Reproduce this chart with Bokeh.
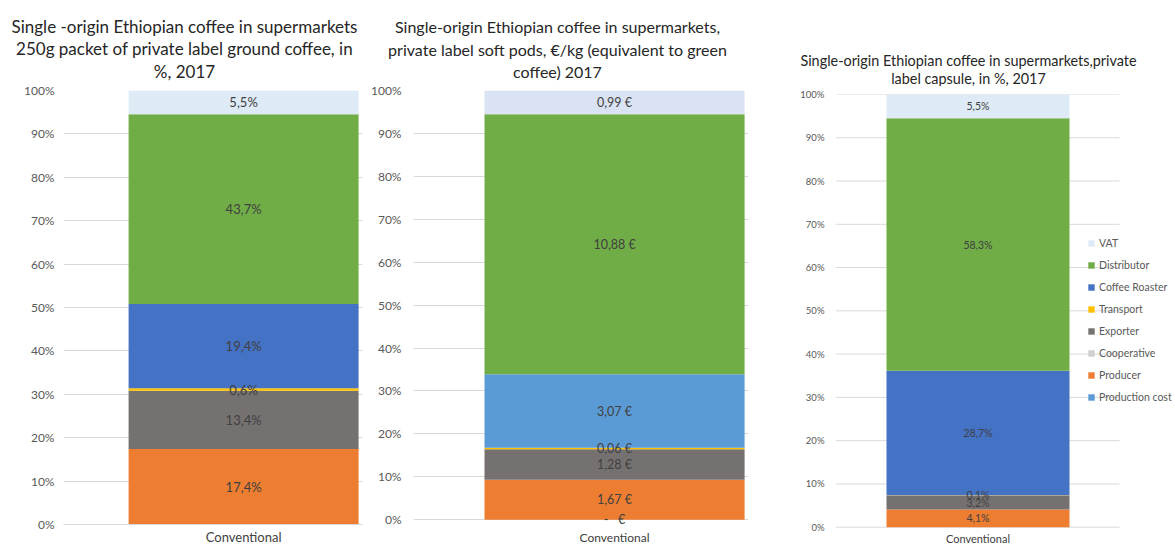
from bokeh.plotting import figure
from bokeh.models import Range1d, FixedTicker, NumeralTickFormatter, Legend, LegendItem, ColumnDataSource
from bokeh.layouts import row, column
from bokeh.embed import file_html
from bokeh.resources import INLINE
from bokeh.core.properties import value
import numpy as np

FONT = "Lato"

categories = ["Conventional"]

segments_1 = ["Producer", "Exporter", "Transport", "Coffee Roaster", "Distributor", "VAT"]
values_1 = [17.4, 13.4, 0.6, 19.4, 43.7, 5.5]
colors_1 = ["#ED7D31", "#767171", "#FFC000", "#4472C4", "#70AD47", "#DEEBF7"]

segments_2 = ["Production cost", "Producer", "Exporter", "Transport", "Coffee Roaster", "Distributor", "VAT"]
values_2 = [0.00, 1.67, 1.28, 0.06, 3.07, 10.88, 0.99]
colors_2 = ["#5B9BD5", "#ED7D31", "#767171", "#FFC000", "#5B9BD5", "#70AD47", "#DAE3F3"]

segments_3 = ["Production cost", "Producer", "Cooperative", "Exporter", "Transport",
              "Coffee Roaster", "Distributor", "VAT"]
values_3 = [0.0, 4.1, 0.0, 3.2, 0.1, 28.7, 58.3, 5.5]
colors_3 = ["#5B9BD5", "#ED7D31", "#D0CECE", "#767171", "#FFC000", "#4472C4", "#70AD47", "#DEEBF7"]

y_ticks = [i / 10 for i in range(11)]

titles_1 = ["Single -origin Ethiopian coffee in supermarkets",
            "250g packet of private label ground coffee, in",
            "%, 2017"]
titles_2 = ["Single-origin Ethiopian coffee in supermarkets,",
            "private label soft pods, \u20ac/kg (equivalent to green",
            "coffee) 2017"]
titles_3 = ["Single-origin Ethiopian coffee in supermarkets,private",
            "label capsule, in %, 2017"]


def pct_label(v):
    return f"{v:.1f}%".replace(".", ",") if v else ""


def eur_label(v):
    if v == 0:
        return "-\u00a0\u00a0\u00a0\u20ac"
    return f"{v:.2f} \u20ac".replace(".", ",")


def title_fig(x0, width, height, lines, xc, ys, size):
    p = figure(width=width, height=height, output_backend="svg", toolbar_location=None,
               x_range=Range1d(x0, x0 + width), y_range=Range1d(height, 0),
               x_axis_location=None, y_axis_location=None, min_border=0,
               frame_align=False)
    p.outline_line_color = None
    p.grid.visible = False
    p.text(x=[xc] * len(lines), y=ys, text=lines, text_align="center",
           text_baseline="middle", text_font=value(FONT), text_font_size=size,
           text_color="#262626")
    return p


def chart_fig(width, height, mb, xr, yr, names, values, colors, labels, label_size,
              tick_size, tick_standoff, cat_size, cat_standoff, axis_line, grid_end=None):
    vals = np.array(values, dtype=float)
    share = vals / vals.sum()
    top = np.cumsum(share)
    bottom = top - share
    p = figure(width=width, height=height, output_backend="svg", toolbar_location=None,
               x_range=Range1d(*xr), y_range=Range1d(*yr),
               min_border_left=mb[0], min_border_right=mb[1],
               min_border_top=mb[2], min_border_bottom=mb[3], frame_align=False)
    p.outline_line_color = None
    p.xgrid.visible = False
    if grid_end is None:
        p.ygrid.ticker = FixedTicker(ticks=y_ticks)
        p.ygrid.grid_line_color = "#D9D9D9"
    else:
        p.ygrid.visible = False
        p.segment(x0=[xr[0]] * len(y_ticks), x1=[grid_end] * len(y_ticks),
                  y0=y_ticks, y1=y_ticks, line_color="#D9D9D9", line_width=1)

    xc = categories.index("Conventional")
    renderers = {}
    for n, b, t, c in zip(names, bottom, top, colors):
        renderers[n] = p.vbar(x=[xc], width=1, bottom=[b], top=[t], fill_color=c,
                              line_color=None)

    src = ColumnDataSource(dict(x=[xc] * len(vals), label=labels, mid=(top + bottom) / 2))
    p.text(x="x", y="mid", text="label", source=src, text_align="center",
           text_baseline="middle", text_font=value(FONT),
           text_font_size=label_size, text_color="#404040")

    p.yaxis.ticker = FixedTicker(ticks=y_ticks)
    p.yaxis.formatter = NumeralTickFormatter(format="0%")
    p.yaxis.axis_line_color = None
    p.yaxis.major_tick_line_color = None
    p.yaxis.minor_tick_line_color = None
    p.yaxis.major_tick_out = 0
    p.yaxis.major_tick_in = 0
    p.yaxis.major_label_text_font = FONT
    p.yaxis.major_label_text_font_size = tick_size
    p.yaxis.major_label_text_color = "#595959"
    p.yaxis.major_label_standoff = tick_standoff

    p.xaxis.ticker = FixedTicker(ticks=[xc])
    p.xaxis.major_label_overrides = {xc: categories[0]}
    p.xaxis.axis_line_color = "#D9D9D9" if axis_line else None
    p.xaxis.major_tick_line_color = None
    p.xaxis.minor_tick_line_color = None
    p.xaxis.major_tick_out = 0
    p.xaxis.major_tick_in = 0
    p.xaxis.major_label_text_font = FONT
    p.xaxis.major_label_text_font_size = cat_size
    p.xaxis.major_label_text_color = "#404040"
    p.xaxis.major_label_standoff = cat_standoff
    return p, renderers


# Panel 1
t1 = title_fig(0, 368, 82, titles_1, 184, [26, 48, 71], "17px")
c1, _ = chart_fig(368, 465, (63, 6, 8, 22), (-0.783, 0.517), (0, 1), segments_1, values_1,
                  colors_1, [pct_label(v) for v in values_1], "13px", "12px", 9, "13px", 4, True)

# Panel 2
t2 = title_fig(368, 400, 82, titles_2, 557, [26, 49, 71], "16px")
c2, _ = chart_fig(400, 465, (45, 20, 8, 20), (-0.773, 0.515), (-0.018, 1), segments_2, values_2,
                  colors_2, [eur_label(v) for v in values_2], "12.5px", "12px", 12, "12px", 2, False)

# Panel 3
t3 = title_fig(768, 407, 86, titles_3, 968, [60, 78], "14.4px")
c3, rend3 = chart_fig(407, 461, (67, 0, 8, 18), (-0.7787, 1.0792), (-0.003, 1), segments_3,
                      values_3, colors_3, [pct_label(v) for v in values_3], "10.5px", "9.5px",
                      11, "11px", 3, False, grid_end=0.7732)

items = [LegendItem(label=n, renderers=[rend3[n]]) for n in reversed(segments_3)]
legend = Legend(items=items, location=(252, 124), orientation="vertical",
                glyph_width=8, glyph_height=8, label_standoff=4, spacing=8,
                label_height=14, padding=0, margin=0, background_fill_alpha=0,
                border_line_color=None, label_text_font=FONT,
                label_text_font_size="10.5px", label_text_color="#595959")
c3.add_layout(legend)

layout = row(column(t1, c1), column(t2, c2), column(t3, c3))
open("out.html", "w").write(file_html(layout, INLINE))
